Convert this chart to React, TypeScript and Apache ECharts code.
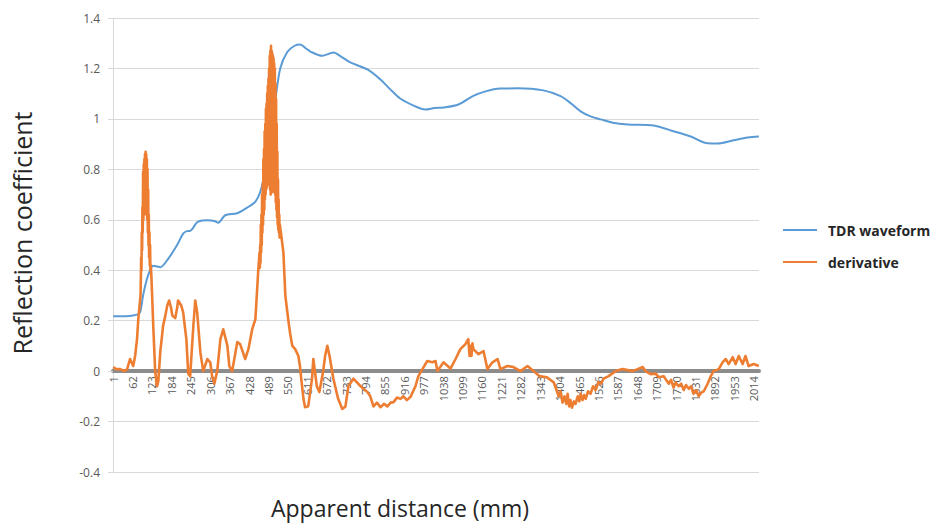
import React, { useEffect, useRef } from "react";
import * as echarts from "echarts";

// Category count (apparent distance samples 1..N)
const N = 2030;
const categories: string[] = Array.from({ length: N }, (_, i) => String(i + 1));

// TDR waveform: [category index, value]
const tdrX = [0, 40, 75, 85, 94, 105, 116, 126, 138, 148, 170, 201, 220, 232, 242, 264, 280, 296, 318, 330, 352, 390, 421, 447, 462, 472, 487, 500, 509, 525, 547, 570, 588, 605, 620, 657, 692, 715, 745, 799, 840, 870, 903, 956, 981, 1010, 1038, 1085, 1130, 1170, 1217, 1271, 1352, 1406, 1440, 1469, 1500, 1532, 1570, 1617, 1698, 1761, 1815, 1868, 1900, 1950, 1994, 2029];
const tdrY = [0.218, 0.218, 0.224, 0.235, 0.3, 0.36, 0.4, 0.418, 0.415, 0.412, 0.44, 0.5, 0.545, 0.555, 0.556, 0.59, 0.597, 0.598, 0.595, 0.588, 0.618, 0.626, 0.648, 0.672, 0.71, 0.76, 0.88, 1.0, 1.07, 1.2, 1.265, 1.29, 1.295, 1.28, 1.267, 1.25, 1.263, 1.248, 1.224, 1.196, 1.156, 1.118, 1.08, 1.046, 1.037, 1.043, 1.045, 1.057, 1.09, 1.109, 1.12, 1.121, 1.113, 1.09, 1.06, 1.03, 1.01, 0.998, 0.985, 0.978, 0.974, 0.951, 0.93, 0.903, 0.902, 0.915, 0.926, 0.93];

// Derivative: [category index, value]
const derivX = [
  0, 9, 22, 35, 44, 53, 63, 69, 75, 79, 83,
  86, 87, 88, 89, 90, 91, 92, 93, 94, 95, 96, 97, 98, 99, 100, 101, 102, 103, 104, 105, 106, 107, 108, 109, 110, 111, 112, 113, 114, 115, 116, 117, 118,
  120, 126, 132, 138, 142, 148, 157, 164, 170, 176, 182, 186, 195, 201, 204, 214, 220, 230, 236, 242, 252, 258, 264, 274, 283, 296, 305, 311, 318, 327, 337, 346, 359, 365, 374, 390, 399, 415, 425, 437, 447, 456,
  460, 461, 462, 463, 464, 465, 466, 467, 468, 469, 470, 471, 472, 473, 474, 475, 476, 477, 478, 479, 480, 481, 482, 483, 484, 485, 486, 487, 488, 489, 490, 491, 492, 493, 494, 495, 496, 497, 498, 499, 500, 501, 502, 503, 504, 505, 506, 507, 508, 509, 510, 511, 512, 513, 514, 515, 516, 517, 518, 519, 520, 521, 522, 523, 524,
  530, 535, 541, 550, 556, 563, 572, 582, 587, 591, 598, 603, 613, 625, 629, 640, 648, 660, 666, 673, 680, 692, 707, 720, 730, 739, 755, 770, 786, 799, 808, 818, 829, 840, 851, 862, 872, 881, 892, 903, 912, 923, 934, 950, 959, 972, 987, 1003, 1013, 1019, 1038, 1060, 1076, 1091, 1107, 1116, 1120, 1123, 1126, 1129, 1132, 1148, 1164, 1176, 1192, 1208, 1217, 1239, 1258, 1280, 1302, 1321, 1340, 1362, 1384, 1392, 1400, 1406, 1412, 1418, 1424, 1428, 1433, 1437, 1442, 1448, 1453, 1460, 1465, 1469, 1475, 1480, 1485, 1492, 1500, 1508, 1516, 1525, 1533, 1541, 1557, 1579, 1601, 1632, 1648, 1664, 1673, 1689, 1705, 1714, 1730, 1746, 1753, 1761, 1768, 1777, 1785, 1793, 1800, 1809, 1816, 1824, 1832, 1840, 1848, 1856, 1868, 1878, 1887, 1903, 1915, 1925, 1934, 1947, 1956, 1966, 1978, 1987, 1997, 2013, 2029,
];
const derivY = [
  0.016, 0.008, 0.008, 0.0, 0.008, 0.048, 0.02, 0.06, 0.127, 0.206, 0.26,
  0.3, 0.36, 0.45, 0.4, 0.55, 0.48, 0.65, 0.55, 0.79, 0.6, 0.82, 0.62, 0.84, 0.64, 0.86, 0.66, 0.87, 0.65, 0.86, 0.62, 0.84, 0.6, 0.8, 0.55, 0.72, 0.5, 0.62, 0.45, 0.55, 0.42, 0.5, 0.4, 0.42,
  0.38, 0.18, 0.0, -0.06, -0.04, 0.075, 0.18, 0.22, 0.26, 0.28, 0.25, 0.22, 0.21, 0.25, 0.28, 0.26, 0.233, 0.127, -0.01, -0.02, 0.18, 0.28, 0.233, 0.075, 0.0, 0.048, 0.035, -0.02, -0.05, 0.0, 0.127, 0.166, 0.1, 0.02, 0.0, 0.115, 0.107, 0.048, 0.087, 0.166, 0.206, 0.4,
  0.47, 0.41, 0.5, 0.43, 0.58, 0.47, 0.62, 0.5, 0.7, 0.55, 0.74, 0.58, 0.84, 0.62, 0.88, 0.64, 0.95, 0.68, 0.98, 0.7, 1.04, 0.72, 1.06, 0.73, 1.1, 0.74, 1.13, 0.76, 1.16, 0.75, 1.2, 0.74, 1.25, 0.72, 1.27, 0.7, 1.29, 0.71, 1.27, 0.72, 1.26, 0.71, 1.25, 0.72, 1.24, 0.73, 1.22, 0.72, 1.2, 0.7, 1.14, 0.67, 1.08, 0.64, 0.98, 0.61, 0.87, 0.58, 0.76, 0.56, 0.68, 0.55, 0.62, 0.53, 0.58,
  0.52, 0.47, 0.3, 0.206, 0.15, 0.1, 0.087, 0.06, 0.02, -0.03, -0.11, -0.143, -0.139, -0.03, 0.048, -0.06, -0.083, 0.0, 0.06, 0.1, 0.06, -0.03, -0.11, -0.15, -0.14, -0.06, -0.03, -0.05, -0.07, -0.083, -0.1, -0.14, -0.125, -0.143, -0.13, -0.14, -0.125, -0.123, -0.105, -0.11, -0.1, -0.115, -0.103, -0.06, -0.02, 0.008, 0.04, 0.035, 0.04, 0.0, 0.035, 0.01, 0.048, 0.087, 0.107, 0.127, 0.06, 0.1, 0.06, 0.11, 0.087, 0.067, 0.079, 0.008, 0.035, 0.048, 0.008, 0.02, 0.016, 0.0, 0.02, 0.0, -0.02, -0.024, -0.044, -0.07, -0.1, -0.08, -0.125, -0.1, -0.13, -0.09, -0.14, -0.115, -0.145, -0.12, -0.13, -0.1, -0.12, -0.09, -0.115, -0.095, -0.11, -0.08, -0.09, -0.06, -0.075, -0.044, -0.05, -0.03, -0.02, 0.0, 0.008, 0.0, 0.008, 0.016, 0.0, -0.012, -0.01, -0.024, -0.02, -0.05, -0.035, -0.065, -0.045, -0.06, -0.05, -0.075, -0.055, -0.07, -0.06, -0.09, -0.075, -0.1, -0.085, -0.08, -0.05, -0.02, 0.0, 0.008, 0.035, 0.048, 0.028, 0.055, 0.028, 0.06, 0.028, 0.06, 0.02, 0.028, 0.02,
];

// Value axis ticks
const yMin = -0.4;
const yMax = 1.4;
const yStep = 0.2;

const seriesNames = ["TDR waveform", "derivative"];
const xTitle = "Apparent distance (mm)";
const yTitle = "Reflection coefficient";

const FONT = "'Open Sans', Lato, sans-serif";
const GRID_TOP = 18;
const GRID_BOTTOM = 51;
const CHART_H = 523;

export default function App() {
  const ref = useRef<HTMLDivElement>(null);
  useEffect(() => {
    if (!ref.current) return;
    const chart = echarts.init(ref.current, undefined, { renderer: "svg" });
    const tdrData = tdrX.map((x, i) => [x, tdrY[i]]);
    const derivData = derivX.map((x, i) => [x, derivY[i]]);
    // shift the category axis up onto the zero line (Excel style)
    const plotH = CHART_H - GRID_TOP - GRID_BOTTOM;
    const zeroOffset = -plotH * ((0 - yMin) / (yMax - yMin));
    chart.setOption({
      animation: false,
      backgroundColor: "#ffffff",
      textStyle: { fontFamily: FONT },
      grid: { left: 113, right: 173, top: GRID_TOP, bottom: GRID_BOTTOM, containLabel: false },
      legend: {
        orient: "vertical",
        left: 778,
        top: 218,
        itemWidth: 34,
        itemHeight: 14,
        itemGap: 18,
        icon: "path://M0,6 L34,6 L34,8 L0,8 Z",
        data: seriesNames,
        textStyle: { fontFamily: FONT, fontSize: 14, fontWeight: "bold", color: "#262626", padding: [0, 0, 0, 6] },
      },
      xAxis: {
        type: "category",
        data: categories,
        boundaryGap: true,
        offset: zeroOffset,
        axisLine: { show: true, onZero: false, lineStyle: { color: "#8c8c8c", width: 4 } },
        axisTick: { show: false },
        axisLabel: { interval: 60, rotate: 90, fontSize: 11, color: "#595959", margin: 5, fontFamily: FONT },
        splitLine: { show: false },
      },
      yAxis: {
        type: "value",
        min: yMin,
        max: yMax,
        interval: yStep,
        axisLine: { show: true, lineStyle: { color: "#d9d9d9", width: 1 } },
        axisTick: { show: true, length: 5, lineStyle: { color: "#d9d9d9" } },
        axisLabel: {
          fontSize: 12,
          color: "#595959",
          margin: 13,
          fontFamily: FONT,
          formatter: (v: number) => String(Math.round(v * 10) / 10),
        },
        splitLine: { show: true, lineStyle: { color: "#d9d9d9", width: 1 } },
      },
      graphic: [
        {
          type: "text",
          x: 22,
          y: 233,
          rotation: Math.PI / 2,
          style: { text: yTitle, fontSize: 25, fill: "#262626", fontFamily: FONT, align: "center", verticalAlign: "middle" },
        },
        {
          type: "text",
          x: 400,
          y: 508,
          style: { text: xTitle, fontSize: 23, fill: "#262626", fontFamily: FONT, align: "center", verticalAlign: "middle" },
        },
      ],
      series: [
        {
          name: seriesNames[0],
          type: "line",
          data: tdrData,
          symbol: "none",
          smooth: 0.3,
          lineStyle: { color: "#5b9bd5", width: 2 },
          itemStyle: { color: "#5b9bd5" },
          z: 2,
        },
        {
          name: seriesNames[1],
          type: "line",
          data: derivData,
          symbol: "none",
          lineStyle: { color: "#ed7d31", width: 2.6, join: "round" },
          itemStyle: { color: "#ed7d31" },
          z: 3,
        },
      ],
    });
    return () => chart.dispose();
  }, []);
  return <div ref={ref} style={{ width: 932, height: 523, position: "absolute", left: 0, top: 0 }} />;
}
